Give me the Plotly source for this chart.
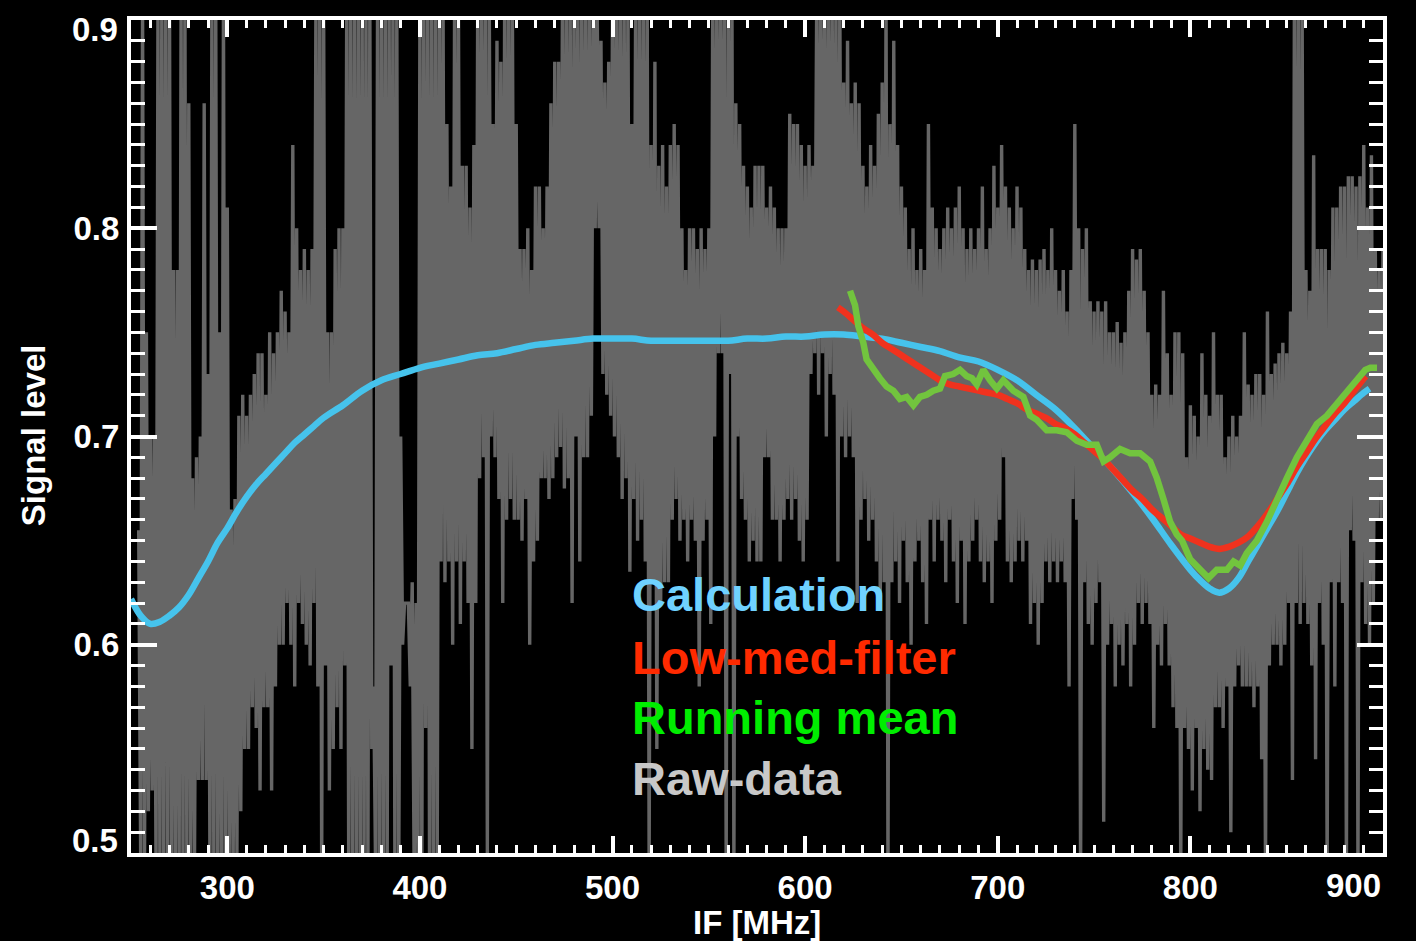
import plotly.graph_objects as go

# ---------------- data ----------------
# Raw spectrometer output, 1 MHz channels from 254 to 900 MHz.
# Even channels (254, 256, ..., 900)
raw_even = [
    0.655, 0.91, 0.75,
    0.70, 0.70, 0.91, 0.91, 0.91,
    0.91, 0.78, 0.78, 0.91, 0.91,
    0.86, 0.68, 0.69, 0.70, 0.86,
    0.73, 0.91, 0.91, 0.75, 0.91,
    0.81, 0.665, 0.67, 0.71, 0.72,
    0.71, 0.72, 0.73, 0.74, 0.74,
    0.72, 0.75, 0.74, 0.75, 0.77,
    0.76, 0.75, 0.84, 0.80, 0.78,
    0.79, 0.78, 0.79, 0.91, 0.91,
    0.91, 0.75, 0.75, 0.79, 0.80,
    0.80, 0.91, 0.91, 0.91, 0.91,
    0.91, 0.91, 0.91, 0.58, 0.91,
    0.91, 0.91, 0.91, 0.91, 0.91,
    0.70, 0.62, 0.62, 0.63, 0.62,
    0.91, 0.91, 0.91, 0.91, 0.91,
    0.91, 0.91, 0.85, 0.82, 0.91,
    0.91, 0.83, 0.83, 0.81, 0.84,
    0.91, 0.91, 0.91, 0.91, 0.85,
    0.89, 0.88, 0.91, 0.91, 0.91,
    0.85, 0.79, 0.79, 0.80, 0.78,
    0.82, 0.82, 0.80, 0.82, 0.86,
    0.88, 0.88, 0.91, 0.91, 0.91,
    0.91, 0.91, 0.91, 0.91, 0.91,
    0.91, 0.91, 0.89, 0.87, 0.88,
    0.91, 0.91, 0.91, 0.91, 0.91,
    0.85, 0.91, 0.91, 0.91, 0.91,
    0.84, 0.88, 0.83, 0.84, 0.82,
    0.84, 0.85, 0.84, 0.80, 0.78,
    0.80, 0.80, 0.79, 0.80, 0.79,
    0.80, 0.91, 0.91, 0.91, 0.91,
    0.91, 0.91, 0.86, 0.85, 0.83,
    0.82, 0.81, 0.83, 0.83, 0.83,
    0.81, 0.82, 0.81, 0.80, 0.80,
    0.80, 0.855, 0.85, 0.85, 0.84,
    0.83, 0.84, 0.83, 0.91, 0.91,
    0.91, 0.91, 0.91, 0.91, 0.91,
    0.87, 0.89, 0.86, 0.87, 0.86,
    0.83, 0.82, 0.84, 0.83, 0.855,
    0.87, 0.91, 0.85, 0.89, 0.84,
    0.82, 0.81, 0.79, 0.80, 0.78,
    0.79, 0.78, 0.85, 0.81, 0.80,
    0.79, 0.80, 0.81, 0.80, 0.81,
    0.82, 0.80, 0.79, 0.80, 0.79,
    0.80, 0.82, 0.79, 0.80, 0.83,
    0.81, 0.84, 0.82, 0.81, 0.80,
    0.82, 0.81, 0.79, 0.78, 0.785,
    0.78, 0.785, 0.79, 0.78, 0.80,
    0.78, 0.77, 0.78, 0.76, 0.78,
    0.85, 0.80, 0.79, 0.80, 0.765,
    0.76, 0.765, 0.76, 0.765, 0.75,
    0.75, 0.755, 0.745, 0.75, 0.77,
    0.79, 0.785, 0.79, 0.77, 0.75,
    0.72, 0.725, 0.72, 0.77, 0.74,
    0.72, 0.75, 0.75, 0.74, 0.69,
    0.715, 0.71, 0.70, 0.74, 0.72,
    0.71, 0.75, 0.72, 0.72, 0.69,
    0.70, 0.71, 0.70, 0.71, 0.75,
    0.725, 0.72, 0.73, 0.73, 0.72,
    0.76, 0.73, 0.735, 0.74, 0.745,
    0.74, 0.76, 0.91, 0.91, 0.91,
    0.78, 0.77, 0.835, 0.79, 0.79,
    0.79, 0.78, 0.81, 0.81, 0.82,
    0.82, 0.825, 0.825, 0.82, 0.825,
    0.84, 0.81, 0.835, 0.79, 0.78,
    0.79,
]
# Odd channels (255, 257, ..., 899)
raw_odd = [
    0.50, 0.49, 0.52,
    0.53, 0.49, 0.49, 0.49, 0.50,
    0.49, 0.49, 0.49, 0.49, 0.49,
    0.50, 0.50, 0.535, 0.535, 0.535,
    0.49, 0.49, 0.49, 0.49, 0.49,
    0.50, 0.49, 0.50, 0.52, 0.55,
    0.55, 0.57, 0.56, 0.53, 0.57,
    0.57, 0.53, 0.58, 0.60, 0.60,
    0.62, 0.60, 0.58, 0.62, 0.61,
    0.60, 0.59, 0.62, 0.58, 0.49,
    0.59, 0.53, 0.55, 0.57, 0.55,
    0.59, 0.50, 0.49, 0.49, 0.49,
    0.49, 0.49, 0.55, 0.49, 0.49,
    0.49, 0.49, 0.59, 0.49, 0.49,
    0.60, 0.62, 0.58, 0.49, 0.49,
    0.49, 0.56, 0.49, 0.49, 0.50,
    0.64, 0.63, 0.64, 0.60, 0.64,
    0.61, 0.64, 0.62, 0.55, 0.62,
    0.68, 0.69, 0.50, 0.70, 0.69,
    0.67, 0.62, 0.66, 0.67, 0.66,
    0.66, 0.65, 0.67, 0.60, 0.64,
    0.65, 0.68, 0.68, 0.67, 0.68,
    0.69, 0.695, 0.675, 0.68, 0.62,
    0.70, 0.64, 0.69, 0.69, 0.71,
    0.80, 0.80, 0.73, 0.72, 0.71,
    0.70, 0.69, 0.67, 0.68, 0.635,
    0.67, 0.65, 0.66, 0.64, 0.49,
    0.63, 0.55, 0.62, 0.63, 0.63,
    0.66, 0.67, 0.65, 0.66, 0.64,
    0.66, 0.65, 0.58, 0.65, 0.66,
    0.61, 0.70, 0.74, 0.74, 0.49,
    0.73, 0.49, 0.70, 0.67, 0.66,
    0.64, 0.65, 0.64, 0.64, 0.69,
    0.69, 0.66, 0.66, 0.64, 0.66,
    0.67, 0.66, 0.67, 0.65, 0.64,
    0.66, 0.73, 0.74, 0.72, 0.74,
    0.70, 0.73, 0.72, 0.64, 0.70,
    0.69, 0.70, 0.69, 0.62, 0.66,
    0.67, 0.65, 0.66, 0.64, 0.62,
    0.63, 0.49, 0.63, 0.64, 0.62,
    0.65, 0.63, 0.60, 0.64, 0.65,
    0.63, 0.61, 0.66, 0.64, 0.66,
    0.65, 0.63, 0.66, 0.64, 0.62,
    0.65, 0.61, 0.64, 0.65, 0.66,
    0.64, 0.63, 0.64, 0.62, 0.65,
    0.66, 0.69, 0.64, 0.63, 0.64,
    0.65, 0.64, 0.65, 0.61, 0.62,
    0.60, 0.62, 0.64, 0.63, 0.64,
    0.63, 0.64, 0.63, 0.58, 0.67,
    0.66, 0.49, 0.63, 0.61, 0.60,
    0.62, 0.63, 0.515, 0.60, 0.61,
    0.58, 0.60, 0.59, 0.61, 0.58,
    0.60, 0.62, 0.61, 0.62, 0.61,
    0.56, 0.60, 0.59, 0.61, 0.59,
    0.57, 0.56, 0.49, 0.56, 0.55,
    0.53, 0.56, 0.52, 0.55, 0.54,
    0.535, 0.57, 0.57, 0.56, 0.58,
    0.51, 0.58, 0.59, 0.58, 0.58,
    0.58, 0.57, 0.58, 0.545, 0.49,
    0.59, 0.60, 0.60, 0.59, 0.60,
    0.62, 0.535, 0.62, 0.61, 0.62,
    0.61, 0.59, 0.545, 0.62, 0.60,
    0.49, 0.63, 0.58, 0.63, 0.62,
    0.49, 0.655, 0.65, 0.49, 0.63,
    0.61, 0.60, 0.62, 0.66, 0.66,
]
raw_start_mhz = 254

# Model calculation
calc_mhz = [250, 255, 260, 265, 270, 275, 280, 285, 290, 295, 300, 305, 310, 315,
            320, 325, 330, 335, 340, 345, 350, 360, 370, 380, 390, 400, 410, 420,
            430, 440, 450, 460, 470, 480, 490, 500, 510, 520, 530, 540, 550, 560,
            570, 580, 590, 600, 610, 620, 630, 640, 650, 660, 670, 680, 690, 700,
            710, 720, 730, 740, 750, 760, 770, 780, 790, 800, 805, 810, 815, 820,
            825, 830, 835, 840, 845, 850, 855, 860, 865, 870, 875, 880, 885, 890, 893]
calc_val = [0.622, 0.614, 0.610, 0.611, 0.614, 0.618, 0.624, 0.632, 0.640, 0.649,
            0.656, 0.664, 0.671, 0.677, 0.682, 0.687, 0.692, 0.697, 0.701, 0.705,
            0.709, 0.715, 0.722, 0.727, 0.730, 0.733, 0.735, 0.737, 0.739, 0.740,
            0.742, 0.744, 0.745, 0.746, 0.747, 0.747, 0.747, 0.746, 0.746, 0.746,
            0.746, 0.746, 0.747, 0.747, 0.748, 0.748, 0.749, 0.749, 0.748, 0.747,
            0.745, 0.743, 0.741, 0.738, 0.736, 0.732, 0.727, 0.720, 0.713, 0.704,
            0.694, 0.684, 0.673, 0.661, 0.648, 0.636, 0.631, 0.627, 0.625, 0.627,
            0.632, 0.640, 0.648, 0.656, 0.664, 0.673, 0.682, 0.690, 0.697, 0.703,
            0.708, 0.713, 0.717, 0.721, 0.723]

# Low-median filter output
lowmed_mhz = [617, 620, 625, 630, 635, 640, 645, 650, 655, 660, 665, 670, 675, 680,
              685, 690, 695, 700, 705, 710, 715, 720, 725, 730, 735, 740, 745, 750,
              755, 760, 765, 770, 775, 780, 785, 790, 795, 800, 805, 810, 815, 820,
              825, 830, 835, 840, 845, 850, 855, 860, 865, 870, 875, 880, 885, 891]
lowmed_val = [0.762, 0.760, 0.756, 0.752, 0.749, 0.745, 0.742, 0.739, 0.736, 0.733,
              0.730, 0.727, 0.725, 0.724, 0.723, 0.722, 0.721, 0.720, 0.718, 0.716,
              0.713, 0.711, 0.709, 0.706, 0.704, 0.701, 0.697, 0.693, 0.689, 0.684,
              0.679, 0.674, 0.670, 0.665, 0.661, 0.657, 0.653, 0.651, 0.649, 0.647,
              0.646, 0.647, 0.649, 0.652, 0.657, 0.663, 0.670, 0.677, 0.685, 0.692,
              0.699, 0.705, 0.711, 0.716, 0.722, 0.729]

# Running mean
runmean_mhz = [623.3, 625.9, 627.6, 630.2, 631.9, 635.4, 638.8, 642.3, 645.8, 649.2,
               652.7, 656.2, 659.6, 663.1, 666.5, 670.0, 672.6, 676.9, 680.4, 683.9,
               686.6, 689.1, 692.5, 696.0, 699.5, 702.9, 708.1, 713.3, 716.8, 720.2,
               725.4, 730.6, 735.8, 741.0, 746.2, 751.4, 754.9, 758.3, 763.5, 768.7,
               773.9, 779.1, 782.6, 786.0, 789.5, 792.9, 795.7, 799.9, 805.1, 809.4,
               813.7, 819.0, 822.4, 825.9, 829.3, 834.5, 839.7, 844.9, 850.1, 855.3,
               860.5, 865.7, 870.9, 876.1, 881.3, 886.5, 890.8, 893.4, 896.9]
runmean_val = [0.770, 0.763, 0.753, 0.745, 0.737, 0.732, 0.728, 0.724, 0.722, 0.718,
               0.719, 0.715, 0.719, 0.720, 0.722, 0.723, 0.729, 0.730, 0.732, 0.729,
               0.728, 0.725, 0.732, 0.727, 0.723, 0.727, 0.722, 0.719, 0.710, 0.708,
               0.703, 0.703, 0.702, 0.698, 0.696, 0.696, 0.688, 0.690, 0.694, 0.692,
               0.692, 0.688, 0.680, 0.670, 0.659, 0.653, 0.650, 0.641, 0.636, 0.632,
               0.636, 0.636, 0.640, 0.638, 0.644, 0.650, 0.659, 0.670, 0.680, 0.690,
               0.698, 0.706, 0.710, 0.716, 0.722, 0.727, 0.732, 0.733, 0.733]

legend_labels = ["Calculation", "Low-med-filter", "Running mean", "Raw-data"]
legend_colors = ["#6fd2ff", "#ff2a00", "#00ee00", "#c8c8c8"]

x_ticks = [300, 400, 500, 600, 700, 800, 900]
y_ticks = [0.5, 0.6, 0.7, 0.8, 0.9]

# ---------------- assemble raw channel sequence ----------------
raw_mhz, raw_val = [], []
for i, v in enumerate(raw_even):
    raw_mhz.append(raw_start_mhz + 2 * i)
    raw_val.append(v)
    if i < len(raw_odd):
        raw_mhz.append(raw_start_mhz + 2 * i + 1)
        raw_val.append(raw_odd[i])

FONT = "Liberation Sans"
tick_font = dict(family=FONT, size=33, color="white", weight="bold")

fig = go.Figure()
fig.add_trace(go.Scatter(x=raw_mhz, y=raw_val, mode="lines",
                         line=dict(color="#666666", width=3.4), hoverinfo="skip"))
fig.add_trace(go.Scatter(x=calc_mhz, y=calc_val, mode="lines", line_shape="spline",
                         line=dict(color="#46c3ec", width=6.5)))
fig.add_trace(go.Scatter(x=lowmed_mhz, y=lowmed_val, mode="lines", line_shape="spline",
                         line=dict(color="#f0321e", width=6.5)))
fig.add_trace(go.Scatter(x=runmean_mhz, y=runmean_val, mode="lines",
                         line=dict(color="#72c43e", width=6.5)))

# text legend stacked inside the plot
legend_y = [0.624, 0.594, 0.565, 0.536]
for lab, col, yy in zip(legend_labels, legend_colors, legend_y):
    fig.add_annotation(x=509, y=yy, xref="x", yref="y", text=lab, showarrow=False,
                       xanchor="left", yanchor="middle",
                       font=dict(family=FONT, size=47, color=col, weight="bold"))

axis_common = dict(showgrid=False, zeroline=False, showline=True, linecolor="white",
                   linewidth=4, mirror="allticks", ticks="inside", tickcolor="white",
                   automargin=False, tickfont=tick_font)

# end labels are pulled inside the frame, so they are drawn separately
x_text = [f"{v:d}" for v in x_ticks[:-1]] + [""]
y_text = [""] + [f"{v:.1f}" for v in y_ticks[1:-1]] + [""]

fig.update_xaxes(range=[250, 900], tickmode="array", tickvals=x_ticks, ticktext=x_text,
                 ticklen=17, tickwidth=3.5, ticklabelstandoff=2,
                 minor=dict(dtick=10, tick0=0, ticklen=8, tickwidth=3, tickcolor="white",
                            ticks="inside", showgrid=False),
                 **axis_common)
fig.update_yaxes(range=[0.5, 0.9], tickmode="array", tickvals=y_ticks, ticktext=y_text,
                 ticklen=26, tickwidth=3.5, ticklabelstandoff=1,
                 minor=dict(dtick=0.01, tick0=0, ticklen=14, tickwidth=3, tickcolor="white",
                            ticks="inside", showgrid=False),
                 **axis_common)

fig.add_annotation(x=x_ticks[-1], y=-0.0396, xref="x", yref="paper", text=str(x_ticks[-1]),
                   showarrow=False, xanchor="right", yanchor="middle", font=tick_font)
fig.add_annotation(x=-0.0085, y=0.988, xref="paper", yref="paper", text=f"{y_ticks[-1]:.1f}",
                   showarrow=False, xanchor="right", yanchor="middle", font=tick_font)
fig.add_annotation(x=-0.0085, y=0.0156, xref="paper", yref="paper", text=f"{y_ticks[0]:.1f}",
                   showarrow=False, xanchor="right", yanchor="middle", font=tick_font)

fig.add_annotation(x=0.5, y=-0.083, xref="paper", yref="paper", text="IF [MHz]",
                   showarrow=False, xanchor="center", yanchor="middle",
                   font=dict(family=FONT, size=33, color="white", weight="bold"))
fig.add_annotation(x=-0.078, y=0.502, xref="paper", yref="paper", text="Signal level",
                   showarrow=False, textangle=-90, xanchor="center", yanchor="middle",
                   font=dict(family=FONT, size=33, color="white", weight="bold"))

fig.update_layout(width=1416, height=941, paper_bgcolor="black", plot_bgcolor="black",
                  margin=dict(l=131, r=33, t=20, b=88), showlegend=False)

fig.write_html("out.html")
